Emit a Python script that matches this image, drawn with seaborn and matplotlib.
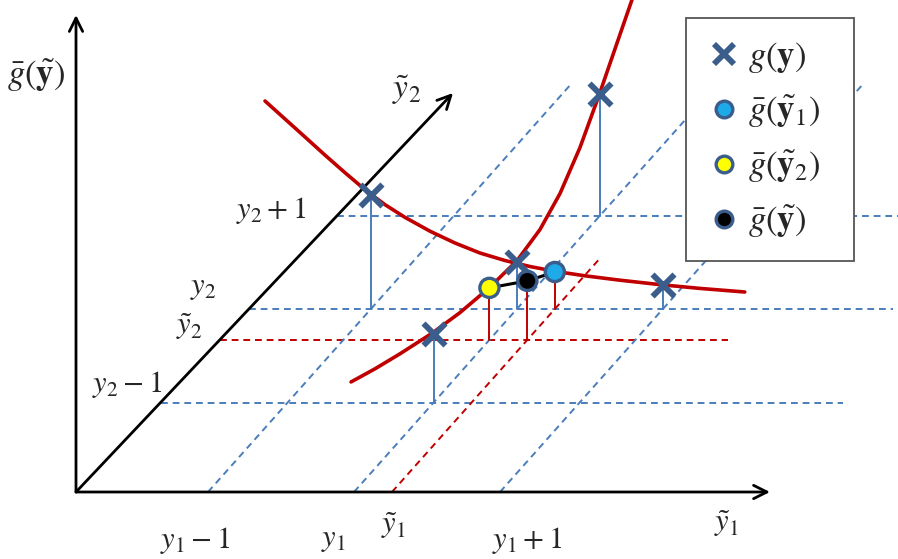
import numpy as np
import pandas as pd
import matplotlib.pyplot as plt
import seaborn as sns
from matplotlib.lines import Line2D

# --- données du schéma (coordonnées conceptuelles u=y1, v=y2, h=hauteur g) ---
u_levels = [-1, 0, 1]          # y1-1, y1, y1+1
v_levels = [-1, 0, 1]          # y2-1, y2, y2+1
u_tilde = 0.26                 # ~y1
v_tilde = -0.33                # ~y2

# g(y) aux points du stencil
cross_u = [-1, 0, 0, 0, 1]
cross_v = [0, -1, 0, 1, 0]
cross_h = [1.14, 0.69, 0.47, 1.22, 0.24]

# gbar aux points interpolés : ~y2 (jaune), ~y (noir), ~y1 (bleu)
circ_name = ["g2", "g", "g1"]
circ_u = [0, u_tilde, u_tilde]
circ_v = [v_tilde, v_tilde, 0]
circ_h = [0.52, 0.59, 0.37]
circ_fill = ["#ffff00", "#000000", "#1ea9e8"]

# courbe g le long de y1 (v = 0)
curve_a_u = [-1.725, -1.588, -1.451, -1.315, -1.178, -1.041, -0.904, -0.766, -0.595,
             -0.424, -0.253, -0.082, 0.089, 0.26, 0.466, 0.706, 0.979, 1.253, 1.561]
curve_a_h = [2.08, 1.90, 1.72, 1.54, 1.364, 1.194, 1.044, 0.916, 0.778,
             0.66, 0.56, 0.485, 0.425, 0.377, 0.332, 0.288, 0.244, 0.206, 0.17]

# courbe g le long de y2 (u = 0)
curve_b_v = [-1.993, -1.705, -1.404, -1.020, -0.683, -0.335, 0.002, 0.278, 0.518,
             0.759, 0.987, 1.191, 1.384]
curve_b_h = [1.134, 0.996, 0.865, 0.711, 0.603, 0.523, 0.482, 0.535, 0.670,
             0.906, 1.214, 1.516, 1.80]

# --- projection oblique vers le canevas (pixels) ---
X0, DU, K = 354, 146, 0.89
Y0, DV, HS = 309, 93.5, 100
Y_AX = 492
ORIG = (76, 492)
DIAG_END = (453, 93)


def proj(u, v, h=0):
    u, v, h = np.asarray(u, float), np.asarray(v, float), np.asarray(h, float)
    yb = Y0 - DV * v
    x = X0 + DU * u + K * (Y_AX - yb)
    return x, yb - HS * h


def diag_axis_x(y):
    slope = (DIAG_END[0] - ORIG[0]) / (ORIG[1] - DIAG_END[1])
    return ORIG[0] + (ORIG[1] - y) * slope


BLUE = "#4a7ebb"
RED = "#c00000"
MARK = "#3b5d8c"

sns.set_style("white")
plt.rcParams["mathtext.fontset"] = "stix"

fig = plt.figure(figsize=(8.98, 5.59), dpi=100)
ax = fig.add_axes([0, 0, 1, 1])
ax.set_xlim(0, 898)
ax.set_ylim(559, 0)
ax.axis("off")

# lignes horizontales (niveaux de y2)
h_ends = [843, 893, 898]
for v, xe in zip(v_levels, h_ends):
    _, y = proj(0, v)
    ax.plot([diag_axis_x(y), xe], [y, y], color=BLUE, lw=1.4, dashes=(3.5, 2.5), zorder=1)
_, y = proj(0, v_tilde)
ax.plot([diag_axis_x(y), 728], [y, y], color=RED, lw=1.4, dashes=(3.5, 2.5), zorder=1)

# lignes diagonales (niveaux de y1)
v_start = (Y0 - Y_AX) / DV
v_ends = [2.40, 2.75, 2.42]
for u, ve in zip(u_levels, v_ends):
    xs, ys = proj([u, u], [v_start, ve])
    ax.plot(xs, ys, color=BLUE, lw=1.4, dashes=(3.5, 2.5), zorder=1)
xs, ys = proj([u_tilde, u_tilde], [v_start, 0.55])
ax.plot(xs, ys, color=RED, lw=1.4, dashes=(3.5, 2.5), zorder=1)

# axes
arrow = dict(arrowstyle="->", color="black", lw=2.0, mutation_scale=24, shrinkA=0, shrinkB=0)
ax.annotate("", xy=(76, 15), xytext=ORIG, arrowprops=arrow, zorder=3)
ax.annotate("", xy=(770, 492), xytext=ORIG, arrowprops=arrow, zorder=3)
ax.annotate("", xy=DIAG_END, xytext=ORIG, arrowprops=arrow, zorder=3)

# courbes g
ax_, ay_ = proj(curve_a_u, np.zeros(len(curve_a_u)), curve_a_h)
bx_, by_ = proj(np.zeros(len(curve_b_v)), curve_b_v, curve_b_h)
curves = pd.concat([
    pd.DataFrame({"x": ax_, "y": ay_, "c": "a"}),
    pd.DataFrame({"x": bx_, "y": by_, "c": "b"}),
])
sns.lineplot(data=curves, x="x", y="y", units="c", estimator=None, sort=False,
             color=RED, lw=2.6, ax=ax, zorder=4)

# segments verticaux
cx, cy = proj(cross_u, cross_v, cross_h)
bxs, bys = proj(cross_u, cross_v)
for x0, y0, y1 in zip(cx, cy, bys):
    ax.plot([x0, x0], [y0, y1], color=BLUE, lw=1.4, zorder=2)
px, py = proj(circ_u, circ_v, circ_h)
_, pby = proj(circ_u, circ_v)
for x0, y0, y1 in zip(px, py, pby):
    ax.plot([x0, x0], [y0, y1], color=RED, lw=1.4, zorder=2)

# ligne noire entre les gbar
ax.plot(px, py, color="black", lw=2.2, zorder=5)

sns.scatterplot(x=cx, y=cy, marker="x", s=250, color=MARK, linewidth=4.2, ax=ax, zorder=6)
sns.scatterplot(x=px, y=py, hue=circ_name, palette=dict(zip(circ_name, circ_fill)),
                s=190, edgecolor=MARK, linewidth=2.4, ax=ax, zorder=7, legend=False)

# étiquettes
fs = 22
ax.text(36, 76, r"$\bar{g}(\tilde{\mathbf{y}})$", ha="center", va="center", fontsize=25)
ax.text(407, 90, r"$\tilde{y}_2$", ha="center", va="center", fontsize=24)
ax.text(271, 210, r"$y_2+1$", ha="center", va="center", fontsize=fs)
ax.text(203, 288, r"$y_2$", ha="center", va="center", fontsize=fs)
ax.text(189, 327, r"$\tilde{y}_2$", ha="center", va="center", fontsize=fs)
ax.text(127, 385, r"$y_2-1$", ha="center", va="center", fontsize=fs)
ax.text(195, 540, r"$y_1-1$", ha="center", va="center", fontsize=fs)
ax.text(333, 540, r"$y_1$", ha="center", va="center", fontsize=fs)
ax.text(394, 526, r"$\tilde{y}_1$", ha="center", va="center", fontsize=fs)
ax.text(527, 540, r"$y_1+1$", ha="center", va="center", fontsize=fs)
ax.text(727, 524, r"$\tilde{y}_1$", ha="center", va="center", fontsize=fs)

# légende
handles = [
    Line2D([], [], ls="none", marker="x", ms=14, mew=4.2, color=MARK),
    Line2D([], [], ls="none", marker="o", ms=12, mew=2.4, mfc=circ_fill[2], mec=MARK),
    Line2D([], [], ls="none", marker="o", ms=12, mew=2.4, mfc=circ_fill[0], mec=MARK),
    Line2D([], [], ls="none", marker="o", ms=12, mew=2.4, mfc=circ_fill[1], mec=MARK),
]
labels = [r"$g(\mathbf{y})$", r"$\bar{g}(\tilde{\mathbf{y}}_1)$",
          r"$\bar{g}(\tilde{\mathbf{y}}_2)$", r"$\bar{g}(\tilde{\mathbf{y}})$"]
leg = ax.legend(handles, labels, loc="upper left",
                bbox_to_anchor=(686 / 898, 1 - 18 / 559 - 0.01, 168 / 898, 0.01), mode="expand",
                fontsize=25, frameon=True, fancybox=False, framealpha=1,
                edgecolor="#555555", handlelength=1.0, handletextpad=0.2,
                borderpad=0.6, labelspacing=0.54, borderaxespad=0)
leg.get_frame().set_linewidth(1.3)
leg.set_zorder(10)

fig.savefig("out.png", dpi=100)
